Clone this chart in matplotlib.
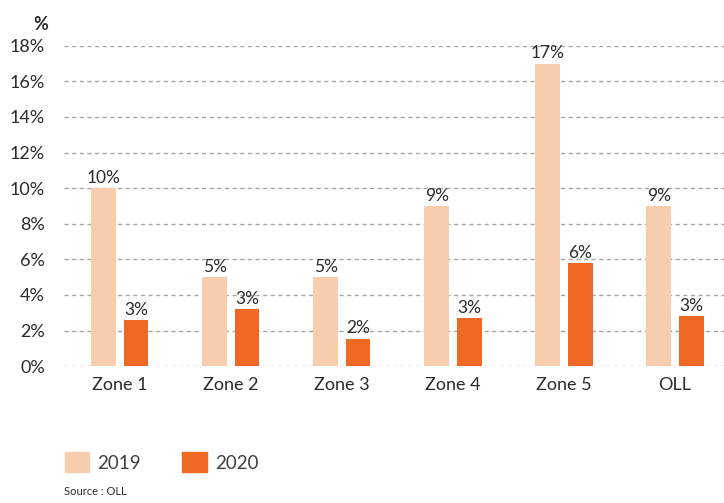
import numpy as np
import matplotlib.pyplot as plt
from matplotlib.patches import Patch

plt.rcParams['font.family'] = ['Lato', 'DejaVu Sans']

zones = ["Zone 1", "Zone 2", "Zone 3", "Zone 4", "Zone 5", "OLL"]
v2019 = [10.0, 5.0, 5.0, 9.0, 17.0, 9.0]
v2020 = [2.6, 3.2, 1.55, 2.7, 5.8, 2.8]
lab2019 = ["10%", "5%", "5%", "9%", "17%", "9%"]
lab2020 = ["3%", "3%", "2%", "3%", "6%", "3%"]
yticks = [0, 2, 4, 6, 8, 10, 12, 14, 16, 18]

c19 = "#F8CDAE"
c20 = "#EF6824"
txt = "#2B2B2B"

fig = plt.figure(figsize=(7.24, 5.03), dpi=100)
ax = fig.add_axes([0.089, 0.272, 0.92, 0.637])

x = np.arange(len(zones))
w = 0.22
off = 0.147
ax.bar(x - off, v2019, w, color=c19, zorder=3)
ax.bar(x + off, v2020, w, color=c20, zorder=3)

for i in range(len(zones)):
    ax.text(x[i] - off, v2019[i] + 0.12, lab2019[i], ha="center", va="bottom",
            fontsize=12.5, color=txt)
    ax.text(x[i] + off, v2020[i] + 0.12, lab2020[i], ha="center", va="bottom",
            fontsize=12.5, color=txt)

ax.set_xlim(-0.5, len(zones) - 0.5)
ax.set_ylim(0, 18)
ax.set_yticks(yticks)
ax.set_yticklabels([f"{t}%" for t in yticks], fontsize=13, color=txt)
ax.set_xticks(x)
ax.set_xticklabels(zones, fontsize=13, color=txt)
ax.tick_params(axis="y", length=0, pad=14)
ax.tick_params(axis="x", length=0, pad=8)
ax.grid(axis="y", color="#A6A6A6", linestyle=(0, (3, 2.5)), linewidth=1, zorder=0)
ax.set_axisbelow(True)
for s in ax.spines.values():
    s.set_visible(False)

fig.text(0.056, 0.952, "%", fontsize=13, fontweight="bold", color=txt, ha="center", va="center")

handles = [Patch(color=c19, label="2019"), Patch(color=c20, label="2020")]
fig.legend(handles=handles, loc="center left", bbox_to_anchor=(0.066, 0.081),
           ncol=2, frameon=False, fontsize=13.5, handlelength=1.3, handleheight=1.3,
           handletextpad=0.45, columnspacing=2.2, labelcolor="#404040")

fig.text(0.088, 0.012, "Source : OLL", fontsize=8, color=txt, ha="left", va="bottom")

fig.savefig("out.png", dpi=100)
